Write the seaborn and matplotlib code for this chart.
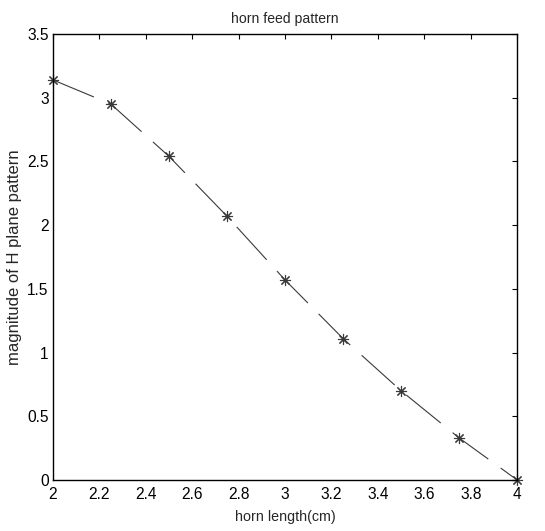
import matplotlib
matplotlib.use("Agg")
import matplotlib.pyplot as plt
import seaborn as sns

horn_length = [2.0, 2.25, 2.5, 2.75, 3.0, 3.25, 3.5, 3.75, 4.0]
magnitude = [3.14, 2.95, 2.54, 2.07, 1.57, 1.11, 0.70, 0.33, 0.0]
x_ticks = [2, 2.2, 2.4, 2.6, 2.8, 3, 3.2, 3.4, 3.6, 3.8, 4]
x_labels = ["2", "2.2", "2.4", "2.6", "2.8", "3", "3.2", "3.4", "3.6", "3.8", "4"]
y_ticks = [0, 0.5, 1, 1.5, 2, 2.5, 3, 3.5]
y_labels = ["0", "0.5", "1", "1.5", "2", "2.5", "3", "3.5"]

sns.set_style("white")
plt.rcParams['font.family'] = ['Liberation Sans', 'DejaVu Sans']
plt.rcParams['lines.scale_dashes'] = False

fig = plt.figure(figsize=(5.45, 5.31), dpi=100)
ax = fig.add_axes([0.097, 0.096, 0.852, 0.840])

sns.lineplot(x=horn_length, y=magnitude, ax=ax, color="#3a3a3a", linewidth=0.8,
             linestyle=(0, (32, 11)), marker=(8, 2, 0), markersize=8,
             markeredgecolor="#3a3a3a", markerfacecolor="#3a3a3a",
             markeredgewidth=0.8, clip_on=False)

ax.set_xlim(2, 4)
ax.set_ylim(0, 3.5)
ax.set_xticks(x_ticks)
ax.set_xticklabels(x_labels)
ax.set_yticks(y_ticks)
ax.set_yticklabels(y_labels)
ax.tick_params(direction="in", top=True, right=True, length=3.6, width=0.8,
               labelsize=11.2, colors="black")
ax.tick_params(axis="x", pad=5)
ax.tick_params(axis="y", pad=3)
for s in ax.spines.values():
    s.set_visible(True)
    s.set_color("black")
    s.set_linewidth(1.0)
ax.set_xlabel("horn length(cm)", fontsize=10.3, labelpad=6)
ax.set_ylabel("magnitude of H plane pattern", fontsize=12, labelpad=4)
ax.set_title("horn feed pattern", fontsize=10.1, pad=8)

fig.savefig("out.png", dpi=100)
